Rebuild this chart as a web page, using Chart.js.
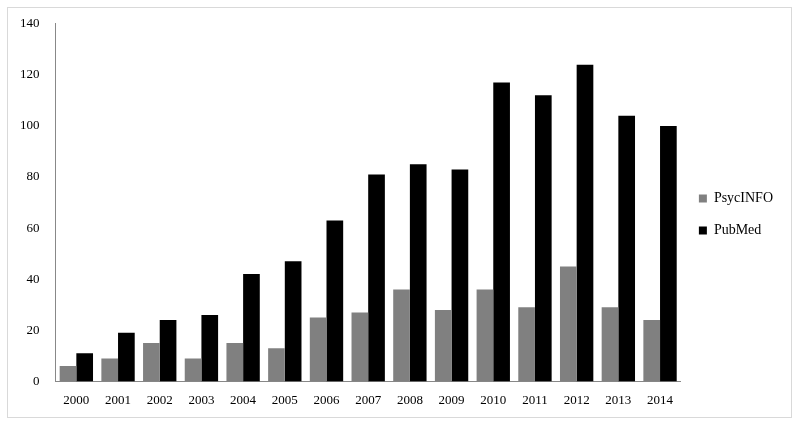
<!DOCTYPE html>
<html><head><meta charset="utf-8">
<script src="https://cdn.jsdelivr.net/npm/chart.js@4"></script>
<style>
html,body{margin:0;padding:0;background:#fff;}
#wrap{position:absolute;left:7px;top:7px;width:785px;height:411px;border:1px solid #d9d9d9;box-sizing:border-box;}
canvas{display:block;}
</style></head><body>
<div id="wrap"><canvas id="c"></canvas></div>
<script>
const categories = ["2000","2001","2002","2003","2004","2005","2006","2007","2008","2009","2010","2011","2012","2013","2014"];
const psycinfo = [6,9,15,9,15,13,25,27,36,28,36,29,45,29,24];
const pubmed = [11,19,24,26,42,47,63,81,85,83,117,112,124,104,100];
const yTicks = [0,20,40,60,80,100,120,140];
Chart.defaults.font.family = "'Liberation Serif', 'DejaVu Serif', serif";
Chart.defaults.color = "#000";
new Chart(document.getElementById('c'), {
  type: 'bar',
  data: { labels: categories, datasets: [
    { label: 'PsycINFO', data: psycinfo, backgroundColor: '#808080', categoryPercentage: 0.8, barPercentage: 1.0 },
    { label: 'PubMed', data: pubmed, backgroundColor: '#000000', categoryPercentage: 0.8, barPercentage: 1.0 }
  ]},
  options: {
    responsive: true, maintainAspectRatio: false, animation: false,
    layout: { padding: { top: 10, right: 8, bottom: 6, left: 4 } },
    plugins: {
      legend: { position: 'right', labels: { boxWidth: 8, boxHeight: 8, font: { size: 14 }, padding: 18 } },
      tooltip: { enabled: false }
    },
    scales: {
      x: { grid: { display: false }, border: { color: '#888' }, ticks: { font: { size: 13 } } },
      y: { min: 0, max: 140, afterBuildTicks: a => { a.ticks = yTicks.map(v => ({ value: v })); },
           grid: { display: false }, border: { color: '#888' }, ticks: { font: { size: 13 }, padding: 8 } }
    }
  }
});
</script>
</body></html>
